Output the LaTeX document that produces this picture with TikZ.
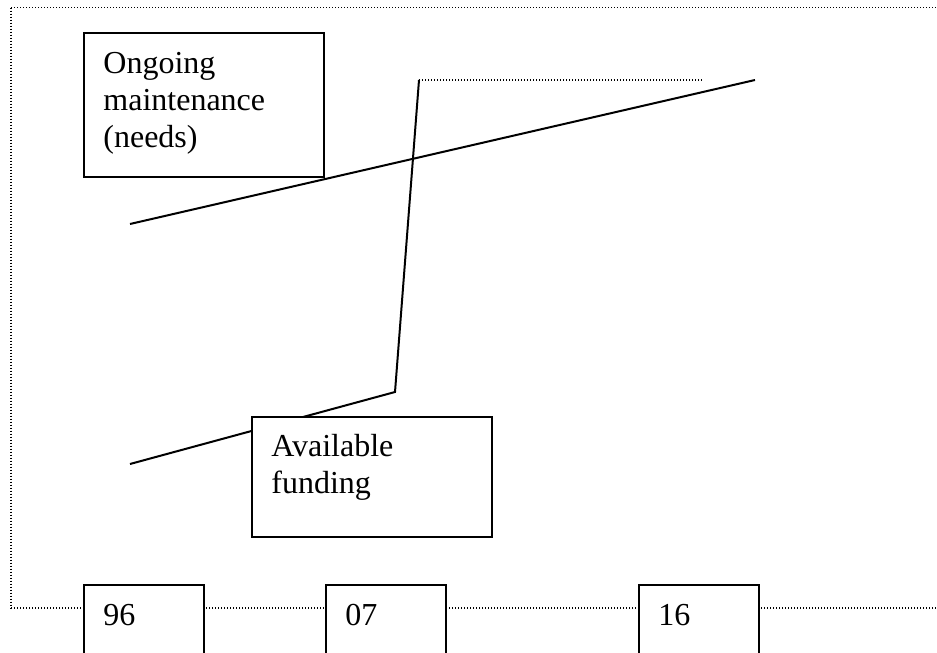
\documentclass[tikz,border=0pt]{standalone}
\usepackage{fontspec}
\setmainfont{Liberation Serif}
\usetikzlibrary{positioning}
\tikzstyle{box} = [rectangle, draw=black, line width=1pt, fill=white, inner sep=0pt]
\tikzstyle{yearbox} = [box, minimum width=60pt, minimum height=60pt, anchor=north west]
\tikzstyle{lbl} = [anchor=base west, align=left, inner sep=0pt, font=\fontsize{16}{18.4}\selectfont]
\tikzstyle{frame} = [line width=0.8pt, dash pattern=on 0.7pt off 0.8pt]
\tikzstyle{trend} = [line width=1pt]

\begin{document}
\begin{tikzpicture}[x=0.5pt, y=-0.5pt]
\clip (0,0) rectangle (937,653);
%frame
\coordinate (tl) at (11,7.5);
\coordinate (tr) at (937,7.5);
\coordinate (bl) at (11,608);
\coordinate (br) at (937,608);
\draw [frame] (tl) -- (tr);
\draw [frame] (tl) -- (bl);
\draw [frame] (bl) -- (br);

%trend lines
\coordinate (need0) at (130,224);
\coordinate (need1) at (755,80);
\coordinate (fund0) at (130,464);
\coordinate (fund1) at (395,392);
\coordinate (fund2) at (419,80);
\coordinate (fund3) at (703,80);
\draw [trend] (need0) -- (need1);
\draw [trend] (fund0) -- (fund1) -- (fund2);
\draw [frame] (fund2) -- (fund3);

%labels (base = last line)
\node (ong) [box, minimum width=120pt, minimum height=72pt, anchor=north west] at (83,32) {};
\node (ongtxt) [lbl] at ([shift={(20,115)}]ong.north west) {Ongoing\\maintenance\\(needs)};
\node (avl) [box, minimum width=120pt, minimum height=60pt, anchor=north west] at (251,416) {};
\node (avltxt) [lbl] at ([shift={(20,77)}]avl.north west) {Available\\funding};

%years
\node (y96) [yearbox] at (83,584) {};
\node (y07) [yearbox, right=60pt of y96.north east, anchor=north west] {};
\node (y16) [yearbox, right=95.5pt of y07.north east, anchor=north west] {};
\node (t96) [lbl] at ([shift={(20,41)}]y96.north west) {96};
\node (t07) [lbl] at ([shift={(20,41)}]y07.north west) {07};
\node (t16) [lbl] at ([shift={(20,41)}]y16.north west) {16};
\end{tikzpicture}
\end{document}
